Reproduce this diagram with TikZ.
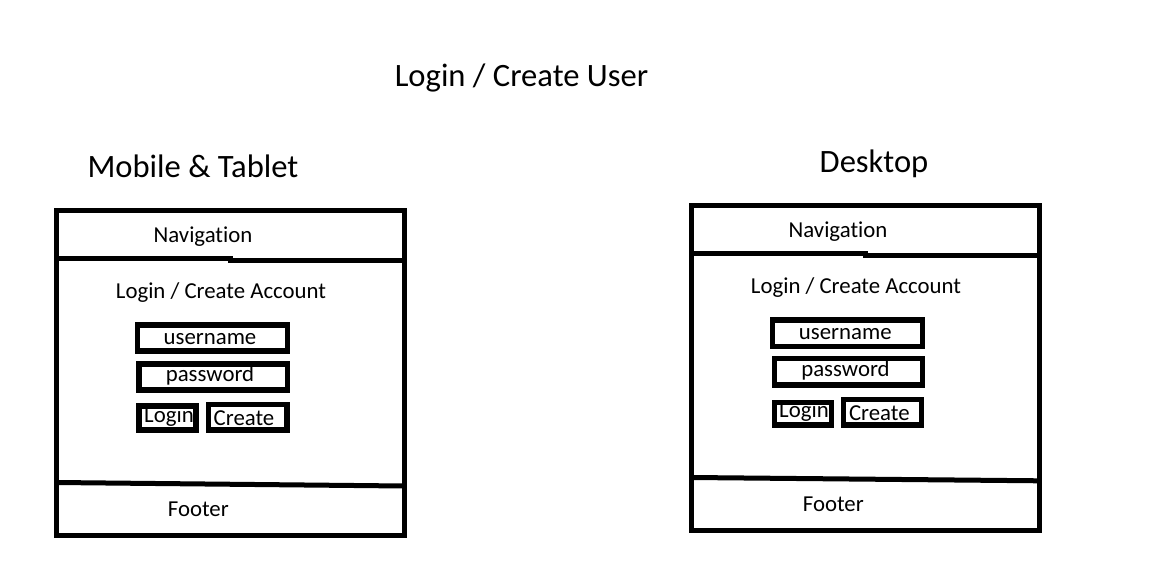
\documentclass[tikz,border=0pt]{standalone}
\usepackage{fontspec}
\setmainfont{Carlito}[Ligatures=NoCommon]
\begin{document}
\begin{tikzpicture}[x=1pt,y=-1pt,
  frame/.style={line width=5pt,line join=miter},
  field/.style={line width=5.5pt,line join=miter},
  lbl/.style={inner sep=0pt,anchor=base,font=\fontsize{22.8}{27}\selectfont},
  head/.style={inner sep=0pt,anchor=base,font=\fontsize{32.6}{39}\selectfont}]
\useasboundingbox[fill=white] (0,0) rectangle (1172,583);
% title
\node[head] (title) at (521.5,86.5) {Login / Create User};
% ---------------- Mobile & Tablet
\node[head] (mobhead) at (193,177.3) {Mobile \& Tablet};
\draw[frame] (56.5,210.5) rectangle (404,535.5);
\draw[frame] (56.5,258.7) -- (230,258.7) -- (230,260.3) -- (404,260.3);
\draw[frame] (56.5,482.5) -- (404,486);
\node[lbl] (mnav) at (203,242.3) {Navigation};
\node[lbl] (mlca) at (221,298.3) {Login / Create Account};
\draw[field] (137.5,325) rectangle (287.5,351);
\node[lbl] (muser) at (210,344.3) {username};
\draw[field] (139,364.2) rectangle (287.5,390.2);
\node[lbl] (mpass) at (210,381.7) {password};
\draw[field] (139.2,406) rectangle (196,430.2);
\node[lbl] (mlogin) at (169,422.7) {Login};
\draw[field] (208.5,404.3) rectangle (287,430.2);
\node[lbl] (mcreate) at (244,425) {Create};
\node[lbl] (mfoot) at (198.3,516) {Footer};
% ---------------- Desktop
\node[head] (deskhead) at (874,172) {Desktop};
\draw[frame] (691.7,205.8) rectangle (1039,530);
\draw[frame] (691.7,253.8) -- (865,253.8) -- (865,255.8) -- (1039,255.8);
\draw[frame] (691.7,477.5) -- (1039,480.8);
\node[lbl] (dnav) at (838,237.3) {Navigation};
\node[lbl] (dlca) at (856,293.3) {Login / Create Account};
\draw[field] (772.5,319.8) rectangle (922.5,346.5);
\node[lbl] (duser) at (845.3,339.3) {username};
\draw[field] (774.5,358.5) rectangle (922.5,385.2);
\node[lbl] (dpass) at (845.5,376.7) {password};
\draw[field] (774.5,402.5) rectangle (831.5,425.2);
\node[lbl] (dlogin) at (804,417.7) {Login};
\draw[field] (843.5,399.5) rectangle (921.5,425.2);
\node[lbl] (dcreate) at (879.3,420) {Create};
\node[lbl] (dfoot) at (833.3,511) {Footer};
\end{tikzpicture}
\end{document}
